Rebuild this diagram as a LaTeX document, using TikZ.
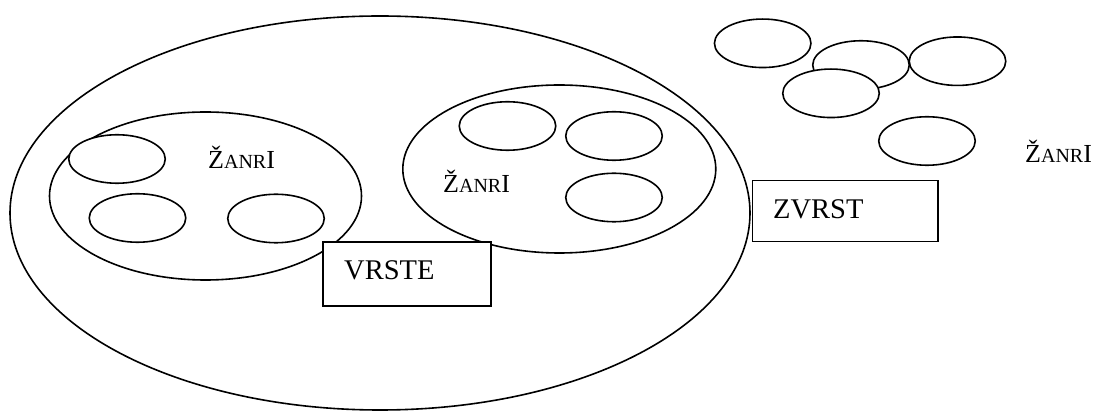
\documentclass[tikz,border=0pt]{standalone}
\usepackage{fontspec}
\setmainfont{Liberation Serif}
\usetikzlibrary{shapes.geometric}
\tikzset{
  ell/.style={ellipse, draw=black, fill=white, line width=1.6pt, inner sep=0pt, outer sep=0pt},
  small/.style={ell, minimum width=96.5pt, minimum height=48.5pt},
  boxnode/.style={rectangle, draw=black, fill=white, line width=1.6pt, inner sep=0pt},
  lbl/.style={inner sep=0pt, anchor=base west, font=\fontsize{26}{28}\selectfont},
  boxlbl/.style={inner sep=0pt, anchor=base west, font=\fontsize{28.5}{30}\selectfont}
}
\newcommand{\zanri}{Ž{\fontsize{20}{20}\selectfont ANR}I}
\begin{document}
\begin{tikzpicture}[x=1pt,y=-1pt]
\useasboundingbox (0,0) rectangle (1096,411);
% big ellipse
\node[ell, minimum width=740pt, minimum height=394pt] (big) at (380,213) {};
% inner ellipses
\node[ell, minimum width=312pt, minimum height=168pt] (left) at (205.5,196) {};
\node[ell, minimum width=313pt, minimum height=168pt] (right) at (559.3,169) {};
% small ellipses in left
\node[small] (l1) at (117,159) {};
\node[small] (l2) at (137.5,218) {};
\node[small] (l3) at (276,218.5) {};
% small ellipses in right
\node[small] (r1) at (507.5,126) {};
\node[small] (r2) at (614,136) {};
\node[small] (r3) at (614,197.5) {};
% labels
\node[lbl] (zl) at (208,169) {\zanri};
\node[lbl] (zr) at (443,193) {\zanri};
\node[lbl] (zf) at (1025,163) {\zanri};
% boxes
\node[boxnode, minimum width=168pt, minimum height=64pt] (vbox) at (407,274) {};
\node[boxlbl] (vrste) at (344,280) {VRSTE};
\node[boxnode, minimum width=185.5pt, minimum height=61pt] (zbox) at (845.3,211) {};
\node[boxlbl] (zvrst) at (773,219) {ZVRST};
% upper right ellipses
\node[small] (e1) at (762.7,43.3) {};
\node[small] (e2) at (861,65) {};
\node[small] (e3) at (957.5,61.2) {};
\node[small] (e4) at (831,93.3) {};
\node[small] (e5) at (927,141) {};
\end{tikzpicture}
\end{document}
